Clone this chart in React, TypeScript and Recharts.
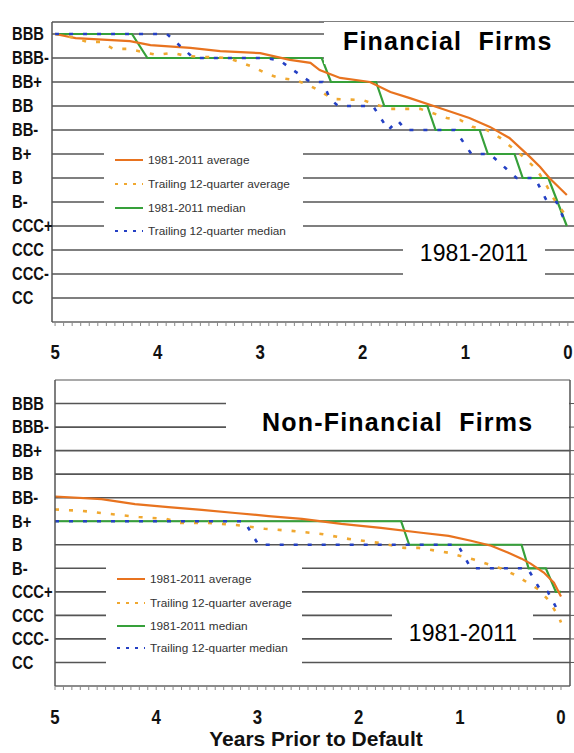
import React from "react";
import { LineChart, Line, XAxis, YAxis, CartesianGrid, ReferenceLine } from "recharts";

// rating scale, bottom (CC = 1) to top (BBB = 12)
const RATINGS = ["CC", "CCC-", "CCC", "CCC+", "B-", "B", "B+", "BB-", "BB", "BB+", "BBB-", "BBB"];
const RATING_VALUES = RATINGS.map((_, i) => i + 1);
const MINOR_TICKS = Array.from({ length: 61 }, (_, i) => i / 12);
const LEGEND_LABELS = ["1981-2011 average", "Trailing 12-quarter average", "1981-2011 median", "Trailing 12-quarter median"];
const PERIOD_LABEL = "1981-2011";
const AXIS_TITLE = "Years Prior to Default";

// [years prior to default, rating level]
const FIN_AVG = [
  [5.0, 12.0], [4.8, 11.83], [4.27, 11.7], [4.07, 11.54], [3.68, 11.42], [3.39, 11.29], [3.0, 11.2],
  [2.71, 10.92], [2.51, 10.8], [2.42, 10.5], [2.22, 10.17], [1.93, 10.0], [1.73, 9.58], [1.54, 9.33],
  [1.25, 8.92], [0.96, 8.5], [0.76, 8.13], [0.57, 7.67], [0.37, 6.88], [0.27, 6.46], [0.18, 6.0],
  [0.08, 5.58], [0.01, 5.29],
];
const FIN_TRAIL_AVG = [
  [5.0, 12.0], [4.79, 11.83], [4.69, 11.67], [4.56, 11.67], [4.43, 11.38], [4.29, 11.38], [4.01, 11.13],
  [3.86, 11.21], [3.71, 11.08], [3.32, 11.0], [3.2, 10.83], [3.07, 10.63], [2.93, 10.33], [2.81, 10.17],
  [2.66, 10.08], [2.53, 9.88], [2.4, 9.58], [2.29, 9.29], [2.0, 9.25], [1.86, 9.04], [1.73, 8.88],
  [1.44, 8.88], [1.18, 8.5], [1.05, 8.42], [0.93, 8.13], [0.79, 8.0], [0.66, 7.67], [0.54, 7.25],
  [0.42, 6.83], [0.3, 6.33], [0.22, 5.79], [0.15, 5.21], [0.08, 4.79], [0.01, 4.38],
];
const FIN_MEDIAN = [
  [5.0, 12], [4.25, 12], [4.1, 11], [2.4, 11], [2.31, 10], [1.87, 10], [1.79, 9], [1.37, 9], [1.29, 8],
  [0.86, 8], [0.78, 7], [0.52, 7], [0.44, 6], [0.19, 6], [0.01, 4],
];
const FIN_TRAIL_MEDIAN = [
  [5.0, 12], [3.91, 12], [3.65, 11], [2.95, 11], [2.81, 10.9], [2.68, 10.5], [2.51, 10], [2.39, 10],
  [2.32, 9.3], [2.24, 9], [1.9, 9], [1.75, 8], [1.66, 8.4], [1.58, 8], [1.1, 8], [0.94, 7], [0.76, 7],
  [0.5, 6], [0.32, 6], [0.2, 5], [0.11, 5], [0.01, 4],
];

const NONFIN_AVG = [
  [5.0, 8.05], [4.54, 7.94], [4.21, 7.73], [3.88, 7.6], [3.55, 7.48], [3.22, 7.35], [2.89, 7.22],
  [2.56, 7.1], [2.17, 6.89], [1.78, 6.72], [1.38, 6.51], [1.11, 6.38], [0.89, 6.17], [0.69, 5.96],
  [0.52, 5.66], [0.39, 5.41], [0.3, 5.2], [0.17, 4.82], [0.07, 4.39], [0.0, 3.8],
];
const NONFIN_TRAIL_AVG = [
  [5.0, 7.5], [4.73, 7.44], [4.46, 7.31], [4.17, 7.18], [3.9, 7.1], [3.77, 6.93], [3.48, 6.93],
  [3.21, 6.84], [2.93, 6.68], [2.66, 6.59], [2.37, 6.46], [2.1, 6.25], [1.8, 6.08], [1.55, 5.87],
  [1.41, 5.87], [1.11, 5.66], [0.86, 5.37], [0.59, 4.99], [0.44, 4.69], [0.33, 4.39], [0.22, 4.1],
  [0.12, 3.63], [0.02, 2.92], [0.0, 2.7],
];
const NONFIN_MEDIAN = [
  [5.0, 7], [1.58, 7], [1.5, 6], [0.39, 6], [0.32, 5], [0.15, 5], [0.05, 4], [0.0, 4],
];
const NONFIN_TRAIL_MEDIAN = [
  [5.0, 7], [3.13, 7], [2.99, 6], [1.02, 6], [0.89, 5], [0.33, 5], [0.2, 4.05], [0.13, 4],
  [0.05, 3.35], [0.0, 3],
];

const SERIES_STYLE = [
  { color: "#E8731F", dash: undefined, width: 2.2, legendDash: undefined },
  { color: "#F0A830", dash: "4 10", width: 2.6, legendDash: "3 6" },
  { color: "#36A03A", dash: undefined, width: 2.2, legendDash: undefined },
  { color: "#2440C4", dash: "4 10", width: 2.6, legendDash: "3 6" },
];
// draw order: median, average, trailing average, trailing median
const DRAW_ORDER = [2, 0, 1, 3];

const FONT = "'Liberation Sans', Arial, sans-serif";
const GRID = "#555";

const toPts = (arr: number[][]) => arr.map(([t, v]) => ({ t, v }));

const YTick = ({ y, payload }: any) => (
  <text
    transform={`translate(12, ${y + 6.3}) scale(0.82, 1)`}
    fontFamily={FONT}
    fontWeight="bold"
    fontSize={18}
    fill="#111"
  >
    {RATINGS[payload.value - 1]}
  </text>
);

const XTick = ({ x, y, payload, off }: any) => {
  const v = payload.value;
  const major = Math.abs(v - Math.round(v)) < 1e-6;
  return (
    <g>
      <line x1={x} x2={x} y1={y} y2={y + 4} stroke="#888" strokeWidth={1} />
      {major && (
        <text
          transform={`translate(${x}, ${y + off}) scale(0.8, 1)`}
          textAnchor="middle"
          fontFamily={FONT}
          fontWeight="bold"
          fontSize={21}
          fill="#111"
        >
          {Math.round(v)}
        </text>
      )}
    </g>
  );
};

function Panel({ top, height, marginTop, xAxisHeight, yAxisWidth, xDomain, yMax, series, framed, tickOff }: any) {
  return (
    <div style={{ position: "absolute", left: 0, top }}>
      <LineChart width={574} height={height} margin={{ top: marginTop, right: 0, left: 0, bottom: 0 }}>
        <CartesianGrid vertical={false} stroke={GRID} strokeWidth={1.6} />
        <XAxis
          type="number"
          dataKey="t"
          domain={xDomain}
          allowDataOverflow
          reversed
          ticks={MINOR_TICKS}
          interval={0}
          tickSize={0}
          tickMargin={0}
          tickLine={false}
          axisLine={{ stroke: "#999", strokeWidth: 1 }}
          height={xAxisHeight}
          tick={(p: any) => <XTick {...p} off={tickOff} />}
        />
        <YAxis
          type="number"
          domain={[0, yMax]}
          allowDataOverflow
          ticks={RATING_VALUES}
          interval={0}
          width={yAxisWidth}
          tickLine={false}
          axisLine={{ stroke: GRID, strokeWidth: 1.5 }}
          tick={(p: any) => <YTick {...p} />}
        />
        {framed && (
          <YAxis
            yAxisId="r"
            orientation="right"
            type="number"
            domain={[0, yMax]}
            allowDataOverflow
            ticks={RATING_VALUES}
            interval={0}
            width={4}
            tickSize={4}
            tickLine={{ stroke: GRID }}
            axisLine={{ stroke: GRID, strokeWidth: 1.5 }}
            tick={() => <g />}
          />
        )}
        {framed && <ReferenceLine y={yMax} stroke="#d4d4d4" strokeWidth={1} />}
        {DRAW_ORDER.map((i) => (
          <Line
            key={i}
            data={toPts(series[i])}
            dataKey="v"
            type="linear"
            stroke={SERIES_STYLE[i].color}
            strokeWidth={SERIES_STYLE[i].width}
            strokeDasharray={SERIES_STYLE[i].dash}
            dot={false}
            activeDot={false}
            isAnimationActive={false}
          />
        ))}
      </LineChart>
    </div>
  );
}

function Legend({ x, rows }: any) {
  return (
    <g>
      {LEGEND_LABELS.map((label, i) => (
        <g key={label}>
          <line
            x1={x}
            x2={x + 28}
            y1={rows[i]}
            y2={rows[i]}
            stroke={SERIES_STYLE[i].color}
            strokeWidth={2}
            strokeDasharray={SERIES_STYLE[i].legendDash}
          />
          <text x={x + 33} y={rows[i] + 4.2} fontFamily={FONT} fontSize={11.8} fill="#333">
            {label}
          </text>
        </g>
      ))}
    </g>
  );
}

export default function App() {
  return (
    <div style={{ position: "absolute", left: 0, top: 0, width: 574, height: 753, background: "#fff", overflow: "hidden" }}>
      <Panel
        top={0}
        height={368}
        marginTop={22}
        xAxisHeight={46}
        yAxisWidth={52}
        xDomain={[-0.06, 5.03]}
        yMax={12.5}
        series={[FIN_AVG, FIN_TRAIL_AVG, FIN_MEDIAN, FIN_TRAIL_MEDIAN]}
        framed={false}
        tickOff={37}
      />
      <Panel
        top={370}
        height={383}
        marginTop={10}
        xAxisHeight={67}
        yAxisWidth={55}
        xDomain={[-0.089, 5]}
        yMax={13}
        series={[NONFIN_AVG, NONFIN_TRAIL_AVG, NONFIN_MEDIAN, NONFIN_TRAIL_MEDIAN]}
        framed={true}
        tickOff={38}
      />
      <svg
        width={574}
        height={753}
        style={{ position: "absolute", left: 0, top: 0, zIndex: 2, pointerEvents: "none" }}
      >
        {/* Financial firms overlays */}
        <rect x={324} y={22} width={250} height={42} fill="#fff" />
        <text x={343} y={50} fontFamily={FONT} fontWeight="bold" fontSize={25} letterSpacing={1.2} fill="#000" style={{ whiteSpace: "pre" }}>
          {"Financial  Firms"}
        </text>
        <rect x={104} y={141} width={199} height={98} fill="#fff" />
        <Legend x={115} rows={[160, 184, 208, 231]} />
        <rect x={403} y={238} width={142} height={46} fill="#fff" />
        <text x={474} y={261} textAnchor="middle" fontFamily={FONT} fontSize={23} fill="#000">
          {PERIOD_LABEL}
        </text>

        {/* Non-financial firms overlays */}
        <rect x={226} y={384} width={343} height={56} fill="#fff" />
        <text x={262} y={431} fontFamily={FONT} fontWeight="bold" fontSize={25} letterSpacing={1.2} fill="#000" style={{ whiteSpace: "pre" }}>
          {"Non-Financial  Firms"}
        </text>
        <rect x={106} y={556} width={196} height={114} fill="#fff" />
        <Legend x={117} rows={[579, 603, 626, 648]} />
        <rect x={392} y={604} width={141} height={48} fill="#fff" />
        <text x={463} y={641} textAnchor="middle" fontFamily={FONT} fontSize={23} fill="#000">
          {PERIOD_LABEL}
        </text>

        <text x={316} y={746} textAnchor="middle" fontFamily={FONT} fontWeight="bold" fontSize={21} fill="#111">
          {AXIS_TITLE}
        </text>
      </svg>
    </div>
  );
}
